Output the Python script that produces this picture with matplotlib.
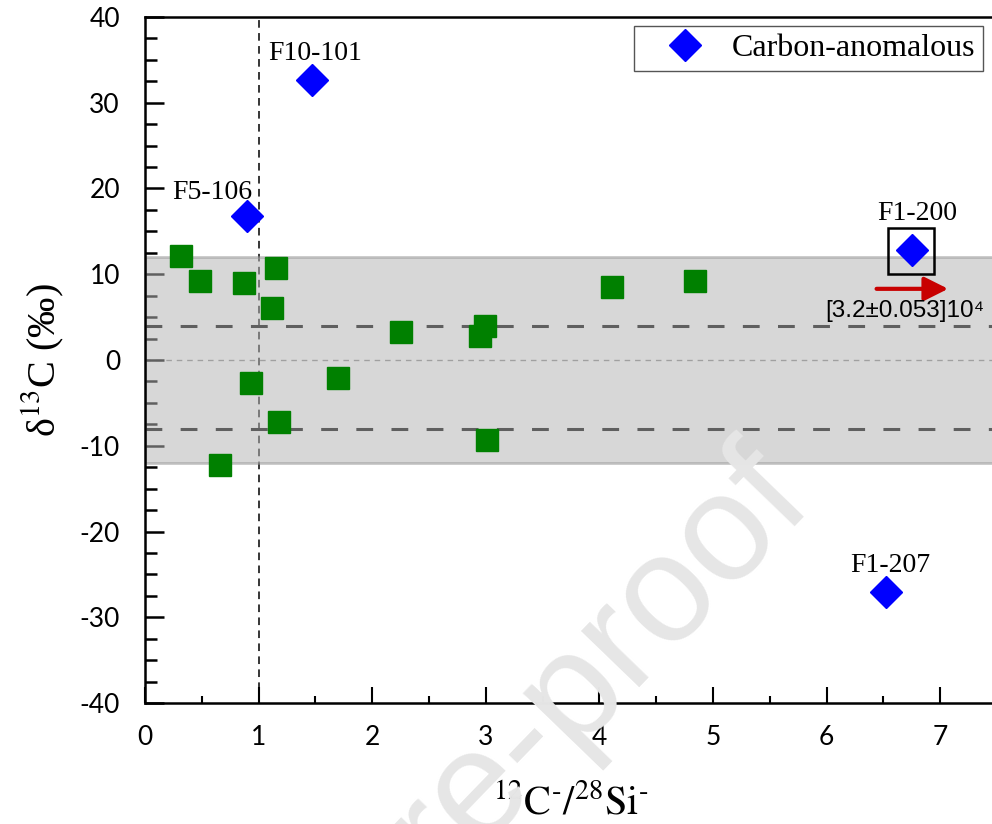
import matplotlib
matplotlib.use("Agg")
import matplotlib.pyplot as plt
from matplotlib.ticker import MultipleLocator

plt.rcParams['axes.unicode_minus'] = False
plt.rcParams['mathtext.fontset'] = 'stix'

# normal grains
ratio_normal = [0.32, 0.48, 0.87, 1.15, 1.12, 0.93, 1.18, 0.66, 1.70, 2.25, 2.95, 2.99, 3.01, 4.11, 4.84]
d13c_normal = [12.1, 9.2, 9.0, 10.7, 6.1, -2.7, -7.2, -12.2, -2.1, 3.3, 2.8, 4.0, -9.3, 8.5, 9.2]

# carbon-anomalous grains
anom_names = ['F10-101', 'F5-106', 'F1-200', 'F1-207']
ratio_anom = [1.47, 0.90, 6.75, 6.52]
d13c_anom = [32.7, 16.8, 12.8, -27.1]

band = [-12, 12]
dash_levels = [4, -8]

fig = plt.figure(figsize=(9.92, 8.24), dpi=100)
ax = fig.add_axes([145/992, 121/824, 852/992, 686/824])

ax.axvline(1, color='black', lw=1.1, ls=(0, (5, 3.5)), zorder=1)
for lev in dash_levels:
    ax.axhline(lev, color='black', lw=2.2, ls=(0, (5.5, 6)), zorder=1)
ax.axhline(0, color='#8a8a8a', lw=1.0, ls=(0, (4, 3.5)), zorder=1)
ax.axhspan(band[0], band[1], facecolor='#b5b5b5', edgecolor='#969696', lw=2, alpha=0.53, zorder=2)

ax.plot(ratio_normal, d13c_normal, 's', color='green', ms=15.5, zorder=3)
ax.plot(ratio_anom, d13c_anom, 'D', color='blue', ms=16, zorder=4, label='Carbon-anomalous')

offsets = [(2, 14.4), (-25, 12), (4, 21.6), (3, 14.4)]
for name, xx, yy, off in zip(anom_names, ratio_anom, d13c_anom, offsets):
    ax.annotate(name, (xx, yy), xytext=off, textcoords='offset points', ha='center', va='baseline',
                fontsize=20, family='Liberation Serif')

# box around F1-200
ax.plot([ratio_anom[2] - 0.01], [d13c_anom[2] - 0.1], 's', ms=33, mfc='none', mec='black', mew=1.8, zorder=5)

# arrow and ratio label
ax.annotate('', xy=(7.07, 8.3), xytext=(6.44, 8.3),
            arrowprops=dict(arrowstyle='-|>,head_length=0.72,head_width=0.36', color='#c80000', lw=3,
                            mutation_scale=20, shrinkA=0, shrinkB=0), zorder=6)
ax.text(6.69, 5.0, '[3.2±0.053]10⁴', ha='center', va='baseline', fontsize=17.5,
        family=['Liberation Sans', 'DejaVu Sans'], zorder=6)

ax.set_xlim(0, 7.5)
ax.set_ylim(-40, 40)
ax.xaxis.set_major_locator(MultipleLocator(1))
ax.xaxis.set_minor_locator(MultipleLocator(0.5))
ax.yaxis.set_major_locator(MultipleLocator(10))
ax.yaxis.set_minor_locator(MultipleLocator(2.5))

ax.tick_params(axis='y', which='major', direction='in', length=13.7, width=1.8, pad=18, labelsize=19)
ax.tick_params(axis='y', which='minor', direction='in', length=8.6, width=1.8)
ax.tick_params(axis='x', which='major', direction='in', length=11.5, width=1.5, pad=16, labelsize=19)
ax.tick_params(axis='x', which='minor', direction='in', length=5, width=1.5)
for lab in ax.get_xticklabels() + ax.get_yticklabels():
    lab.set_family('Lato')
for sp in ax.spines.values():
    sp.set_linewidth(1.8)

ax.set_ylabel('δ$^{13}$C (‰)', fontsize=29, family=['Liberation Serif', 'DejaVu Serif'], labelpad=10)
ax.set_xlabel(r'$^{12}\mathrm{C}^{\text{-}}/^{28}\mathrm{Si}^{\text{-}}$', fontsize=29, labelpad=23)

leg = ax.legend(loc='upper right', bbox_to_anchor=(0.9836, 0.9869), borderaxespad=0, borderpad=0.25,
                handlelength=2.7, handletextpad=0.1, fancybox=False, framealpha=1,
                prop={'family': 'Liberation Serif', 'size': 23})
leg.get_frame().set_edgecolor('#555555')
leg.get_frame().set_linewidth(1.0)

# watermark of the source page
fig.text(815/992, 1 - 505/824, 'Journal Pre-proof', rotation=46, fontsize=110, color='#e6e6e6',
         ha='right', va='baseline', rotation_mode='anchor', family='Liberation Sans', zorder=10)

fig.savefig('out.png', dpi=100)
